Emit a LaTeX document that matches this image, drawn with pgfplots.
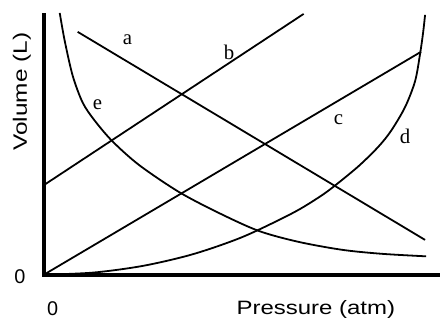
\documentclass[border=0pt]{standalone}
\usepackage{pgfplots}
\pgfplotsset{compat=1.18}
\usepackage{fontspec}
\setmainfont{Liberation Sans}
\newfontfamily\serifletters{Liberation Serif}
\begin{document}
\begin{tikzpicture}
\begin{axis}[
  scale only axis, width=396bp, height=261bp,
  xmin=0, xmax=396, ymin=0, ymax=261,
  axis lines=left,
  axis line style={-, line width=4bp, line cap=rect},
  xtick={0}, ytick={0},
  major tick length=0pt,
  /pgf/number format/assume math mode=true,
  tick label style={font=\fontsize{20}{24}\selectfont},
  xticklabel style={anchor=center, xshift=9bp, yshift=-34bp},
  yticklabel style={anchor=center, xshift=-24bp, yshift=-2bp},
  xlabel={\scalebox{1.24}[1]{Pressure (atm)}},
  ylabel={\scalebox{1.26}[1]{Volume (L)}},
  label style={font=\fontsize{19.5}{23}\selectfont},
  xlabel style={at={(axis description cs:0.69,-0.134)}, anchor=center},
  ylabel style={at={(axis description cs:-0.0556,0.705)}, anchor=center},
  clip=false,
  curve/.style={black, line width=1.8bp, no marks},
]
% a
\addplot[curve] coordinates {(34,244) (383,35)};
% b
\addplot[curve] coordinates {(0,90) (261,262)};
% c
\addplot[curve] coordinates {(0,0) (379,224)};
% d
\addplot[curve, smooth] coordinates {
 (0,0) (50,2.2) (100,9) (150,20.7) (200,38.1) (250,62) (276,77.6) (291,88.4) (316,108.9)
 (336,128.5) (349,144.8) (363,168.6) (373,194.6) (378,222) (381,243) (383,261)};
% e
\addplot[curve, smooth] coordinates {
 (16,263) (21,235) (29,200) (39,173) (51,155) (69,134) (96,110) (136,83) (176,62) (216,44) (256,33) (300,25) (340,21) (384,18.5)};
\node[font=\serifletters\fontsize{21}{24}\selectfont] at (axis cs:84,236) {a};
\node[font=\serifletters\fontsize{21}{24}\selectfont] at (axis cs:186,223) {b};
\node[font=\serifletters\fontsize{21}{24}\selectfont] at (axis cs:296,156) {c};
\node[font=\serifletters\fontsize{21}{24}\selectfont] at (axis cs:363,139) {d};
\node[font=\serifletters\fontsize{21}{24}\selectfont] at (axis cs:54,171) {e};
\end{axis}
\path[use as bounding box] (-44bp,-45bp) rectangle (396bp,276bp);
\end{tikzpicture}
\end{document}
